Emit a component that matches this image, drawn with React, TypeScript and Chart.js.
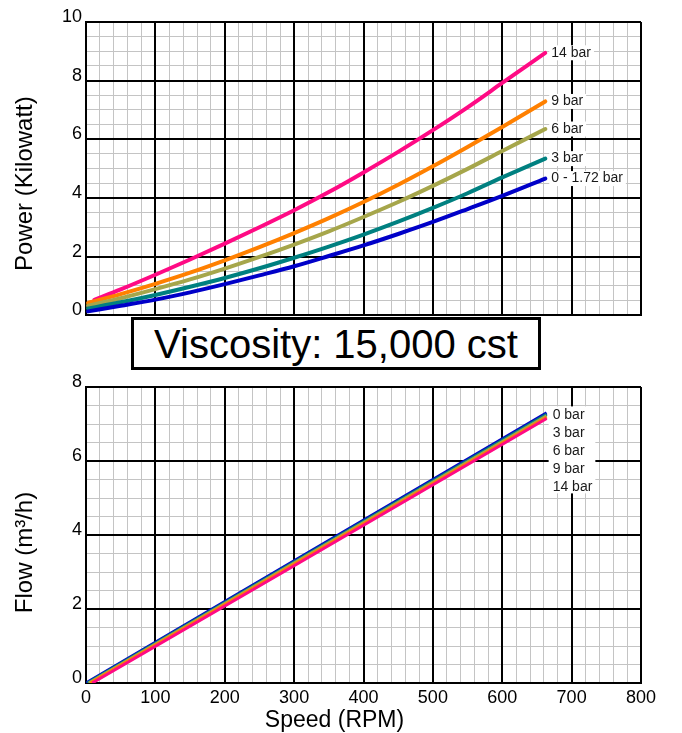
import React, { useEffect, useRef } from "react";
import { Chart, registerables } from "chart.js";

Chart.register(...registerables);

// ---------------- data ----------------
const speedMin = 0;
const speedMax = 800;
const powerMax = 10;
const flowMax = 8;

const powerLabels = ["0 - 1.72 bar", "3 bar", "6 bar", "9 bar", "14 bar"];
const flowLabels = ["0 bar", "3 bar", "6 bar", "9 bar", "14 bar"];
const seriesColors = ["#0000c8", "#008080", "#a6a64b", "#ff8000", "#ff0a84"];

// Power (kW) vs speed (RPM)
const powerSpeed = [3, 50, 100, 150, 200, 250, 300, 350, 400, 450, 500, 550, 600, 662];
const powerSpeed14 = [12, 50, 100, 150, 200, 250, 300, 350, 400, 450, 500, 550, 600, 662];
const power0 = [0.13, 0.32, 0.53, 0.78, 1.06, 1.36, 1.67, 2.02, 2.38, 2.77, 3.18, 3.62, 4.07, 4.66];
const power3 = [0.23, 0.44, 0.69, 0.97, 1.27, 1.6, 1.96, 2.34, 2.75, 3.19, 3.66, 4.16, 4.7, 5.34];
const power6 = [0.32, 0.58, 0.89, 1.22, 1.59, 1.99, 2.41, 2.86, 3.35, 3.86, 4.41, 4.99, 5.6, 6.35];
const power9 = [0.42, 0.72, 1.07, 1.45, 1.87, 2.32, 2.8, 3.31, 3.86, 4.45, 5.08, 5.74, 6.42, 7.29];
const power14 = [0.52, 0.88, 1.38, 1.9, 2.44, 3.0, 3.58, 4.2, 4.87, 5.57, 6.31, 7.09, 7.92, 8.95];

// Flow (m3/h) vs speed (RPM)
const flowSpeed0 = [0, 300, 664];
const flowSpeed3 = [2, 300, 664];
const flowSpeed6 = [4, 300, 664];
const flowSpeed9 = [6, 300, 664];
const flowSpeed14 = [9, 300, 664];
const flow0 = [0, 3.3, 7.3];
const flow3 = [0, 3.27, 7.26];
const flow6 = [0, 3.24, 7.22];
const flow9 = [0, 3.21, 7.18];
const flow14 = [0, 3.17, 7.15];

const viscosityText = "Viscosity: 15,000 cst";

// ---------------- helpers ----------------
const FONT = '"Liberation Sans", Arial, Helvetica, sans-serif';
Chart.defaults.font.family = FONT;

const pts = (xs: number[], ys: number[]) => xs.map((x, i) => ({ x, y: ys[i] }));

const endLabels = {
  id: "endLabels",
  afterDatasetsDraw(chart: any, _args: any, opts: any) {
    if (!opts || !opts.mode) return;
    const ctx = chart.ctx;
    ctx.save();
    ctx.font = `14px ${FONT}`;
    ctx.textBaseline = "middle";
    ctx.textAlign = "left";
    const items = chart.data.datasets.map((ds: any, i: number) => {
      const meta = chart.getDatasetMeta(i);
      const pt = meta.data[meta.data.length - 1];
      return { text: ds.label as string, x: pt.x, y: pt.y };
    });
    if (opts.mode === "each") {
      items.forEach((it: any) => {
        const w = ctx.measureText(it.text).width;
        ctx.fillStyle = "#fff";
        ctx.fillRect(it.x + 4, it.y - 7.5, w + 5, 15);
        ctx.fillStyle = "#1a1a1a";
        ctx.fillText(it.text, it.x + 6, it.y);
      });
    } else {
      const first = items[0];
      const x = first.x + 6;
      const y0 = first.y + 2;
      const wmax = Math.max(...items.map((it: any) => ctx.measureText(it.text).width));
      ctx.fillStyle = "#fff";
      ctx.fillRect(first.x + 2, y0 - 8.5, wmax + 7, (items.length - 1) * opts.spacing + 15);
      ctx.fillStyle = "#1a1a1a";
      items.forEach((it: any, k: number) => ctx.fillText(it.text, x, y0 + k * opts.spacing));
    }
    ctx.restore();
  },
};

const axisTitles = {
  id: "axisTitles",
  afterDraw(chart: any, _args: any, opts: any) {
    const ctx = chart.ctx;
    const a = chart.chartArea;
    (opts.items || []).forEach((t: any) => {
      ctx.save();
      ctx.font = `${t.size}px ${FONT}`;
      ctx.fillStyle = "#000";
      ctx.textAlign = "center";
      ctx.textBaseline = "alphabetic";
      if (t.axis === "y") {
        ctx.translate(a.left + t.dx, (a.top + a.bottom) / 2 + t.dy);
        ctx.rotate(-Math.PI / 2);
      } else {
        ctx.translate((a.left + a.right) / 2 + t.dx, a.bottom + t.dy);
      }
      ctx.fillText(t.text, 0, 0);
      ctx.restore();
    });
  },
};

function makeScales(yMax: number, showX: boolean, xHeight: number) {
  const major = { color: "#000", lineWidth: 2, drawTicks: false, z: -1 };
  const minor = { color: "#c4c4c4", lineWidth: 1, drawTicks: false, z: -2 };
  const border = { display: true, color: "#000", width: 2 };
  return {
    x: {
      type: "linear",
      position: "bottom",
      min: speedMin,
      max: speedMax,
      ticks: { stepSize: 100, display: showX, font: { size: 18 }, color: "#000", padding: 4, maxRotation: 0, autoSkip: false },
      grid: major,
      border,
      afterFit: (s: any) => { s.height = xHeight; },
    },
    xMinor: {
      type: "linear",
      position: "bottom",
      min: speedMin,
      max: speedMax,
      ticks: { stepSize: 20, display: false },
      grid: minor,
      border: { display: false },
      afterFit: (s: any) => { s.height = 0; },
    },
    y: {
      type: "linear",
      position: "left",
      min: 0,
      max: yMax,
      ticks: { stepSize: 2, font: { size: 18 }, color: "#000", padding: 4, labelOffset: -5 },
      grid: major,
      border,
      afterFit: (s: any) => { s.width = 86; },
    },
    yMinor: {
      type: "linear",
      position: "left",
      min: 0,
      max: yMax,
      ticks: { stepSize: 0.5, display: false },
      grid: minor,
      border: { display: false },
      afterFit: (s: any) => { s.width = 0; },
    },
  };
}

export default function App() {
  const topRef = useRef<HTMLCanvasElement>(null);
  const botRef = useRef<HTMLCanvasElement>(null);

  useEffect(() => {
    const powerSets = [
      { xs: powerSpeed, ys: power0 },
      { xs: powerSpeed, ys: power3 },
      { xs: powerSpeed, ys: power6 },
      { xs: powerSpeed, ys: power9 },
      { xs: powerSpeed14, ys: power14 },
    ];
    const top = new Chart(topRef.current as HTMLCanvasElement, {
      type: "line",
      data: {
        datasets: powerSets.map((s, i) => ({
          label: powerLabels[i],
          data: pts(s.xs, s.ys),
          borderColor: seriesColors[i],
          borderWidth: 4,
          pointRadius: 0,
          cubicInterpolationMode: "monotone",
          borderCapStyle: "round",
          fill: false,
          xAxisID: "x",
          yAxisID: "y",
        })),
      },
      options: {
        animation: false,
        responsive: false,
        layout: { padding: { left: 0, right: 41, top: 22, bottom: 14 } },
        scales: makeScales(powerMax, false, 0) as any,
        plugins: {
          legend: { display: false },
          tooltip: { enabled: false },
          endLabels: { mode: "each" },
          axisTitles: { items: [{ axis: "y", text: "Power (Kilowatt)", size: 24, dx: -54, dy: 15 }] },
        } as any,
      },
      plugins: [endLabels, axisTitles],
    } as any);

    const flowSets = [
      { xs: flowSpeed0, ys: flow0 },
      { xs: flowSpeed3, ys: flow3 },
      { xs: flowSpeed6, ys: flow6 },
      { xs: flowSpeed9, ys: flow9 },
      { xs: flowSpeed14, ys: flow14 },
    ];
    const bot = new Chart(botRef.current as HTMLCanvasElement, {
      type: "line",
      data: {
        datasets: flowSets.map((s, i) => ({
          label: flowLabels[i],
          data: pts(s.xs, s.ys),
          borderColor: seriesColors[i],
          borderWidth: 3,
          pointRadius: 0,
          tension: 0,
          order: flowSets.length - i,
          fill: false,
          xAxisID: "x",
          yAxisID: "y",
        })),
      },
      options: {
        animation: false,
        responsive: false,
        layout: { padding: { left: 0, right: 41, top: 27, bottom: 0 } },
        scales: makeScales(flowMax, true, 50) as any,
        plugins: {
          legend: { display: false },
          tooltip: { enabled: false },
          endLabels: { mode: "stack", spacing: 18 },
          axisTitles: {
            items: [
              { axis: "y", text: "Flow (m³/h)", size: 24, dx: -54, dy: 17.5 },
              { axis: "x", text: "Speed (RPM)", size: 23, dx: -29, dy: 44 },
            ],
          },
        } as any,
      },
      plugins: [endLabels, axisTitles],
    } as any);

    return () => {
      top.destroy();
      bot.destroy();
    };
  }, []);

  return (
    <div style={{ position: "absolute", left: 0, top: 0, width: 682, height: 733, background: "#fff", overflow: "hidden" }}>
      <canvas ref={topRef} width={682} height={330} style={{ position: "absolute", left: 0, top: 0, width: 682, height: 330 }} />
      <canvas ref={botRef} width={682} height={373} style={{ position: "absolute", left: 0, top: 360, width: 682, height: 373 }} />
      <div
        style={{
          position: "absolute",
          left: 131,
          top: 317,
          width: 410,
          height: 53,
          boxSizing: "border-box",
          border: "3px solid #000",
          background: "#fff",
          display: "flex",
          alignItems: "center",
          justifyContent: "center",
          fontFamily: FONT,
          fontSize: 40,
          color: "#000",
          lineHeight: 1,
        }}
      >
        {viscosityText}
      </div>
    </div>
  );
}
